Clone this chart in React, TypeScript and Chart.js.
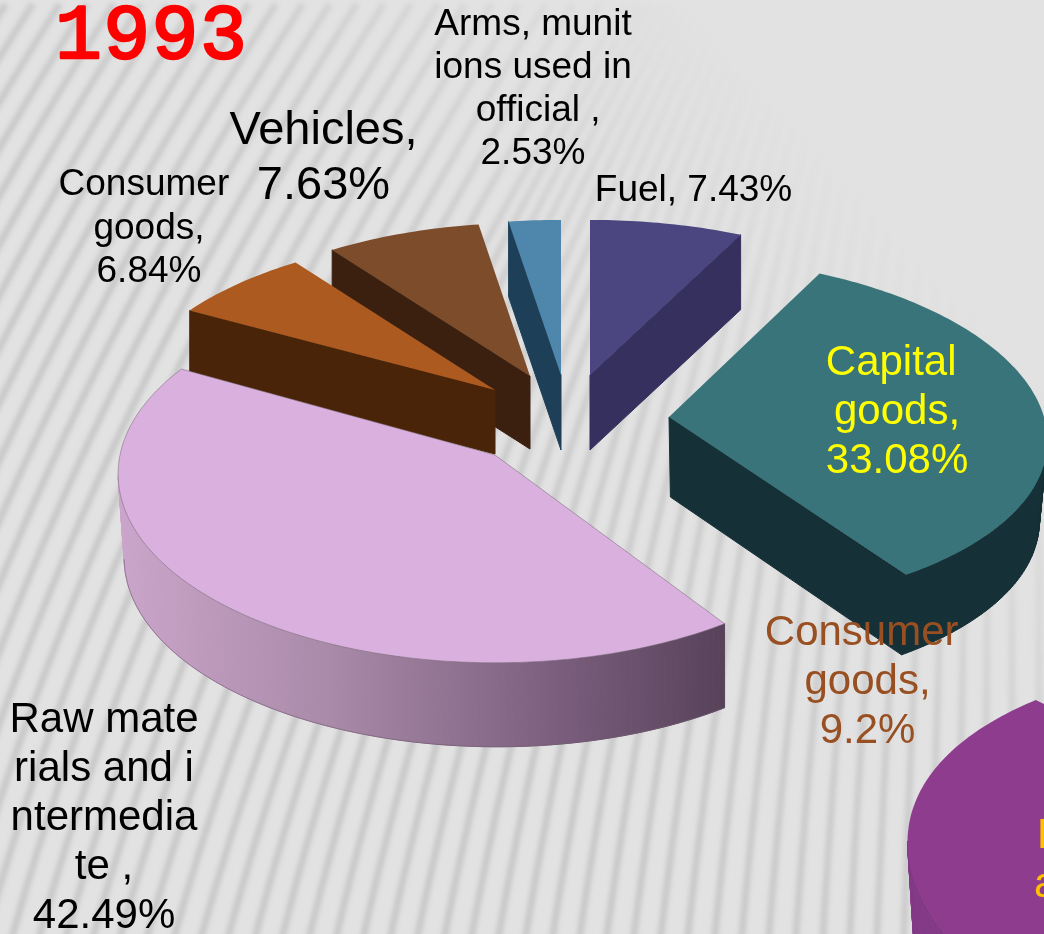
import React, { useEffect, useRef } from "react";
import { Chart, registerables, PieController, ArcElement } from "chart.js";

// ---- data ----
const mainCategories = ["Fuel", "Capital goods", "Raw materials and intermediate", "Consumer goods", "Vehicles", "Arms, munitions used in official"];
const mainValues = [7.43, 33.08, 42.49, 6.84, 7.63, 2.53];
const secondCategories = ["F", "Consumer goods", "Other"];
const secondValues = [32, 9.2, 58.8];

// ---- styles ----
const mainTopColors = ["#4b4580", "#38747a", "#dab1de", "#ad5a20", "#7d4c2a", "#4e86ac"];
const mainWallColors = ["#35305e", "#153037", "#a98aa8", "#4a2408", "#3b2010", "#1d3f58"];
const secondTopColors = ["#8e3d8e", "rgba(0,0,0,0)", "rgba(0,0,0,0)"];
const secondWallColors = ["#833a87", "rgba(0,0,0,0)", "rgba(0,0,0,0)"];

// per-slice projection settings: [apexX, apexY, radiusX, radiusY, depth, perspectiveX, perspectiveY, wallDrift]
const mainPlacement = [
  [590, 375, 375, 176, 75, 0.135, 0.135, 0],
  [669, 417, 375, 175, 80, 0.135, 0.1, 0.025],
  [495, 455, 375, 187, 84, 0.1, 0.1, 0.01],
  [495, 390, 371, 176, 64, 0.135, 0.135, 0],
  [530, 376, 368, 174, 73, 0.135, 0.135, 0],
  [561, 375, 375, 176, 75, 0.135, 0.135, 0],
];
const secondPlacement = [[1286, 815, 375, 194, 85, 0.135, 0.2275, -0.03]];
const placements = [secondPlacement, mainPlacement];
const wallColors = [secondWallColors, mainWallColors];
const mainDrawOrder = [5, 4, 3, 2, 0, 1];

class Arc3D extends ArcElement {
  static id = "arc3d";
  static defaults = ArcElement.defaults;
  draw(ctx: CanvasRenderingContext2D) {
    const el: any = this;
    const { datasetIndex, dataIndex } = el.$context;
    const p = placements[datasetIndex][dataIndex];
    if (!p) return;
    const [ax, ay, rx, ry, depth, kx, ky, drift] = p;
    const a0 = el.startAngle + Math.PI / 2;
    const a1 = el.endAngle + Math.PI / 2;
    const proj = (t: number) => {
      const u = Math.sin(t), v = Math.cos(t);
      return [ax + (rx * u) / (1 + kx * v), ay - (ry * v) / (1 + ky * v)];
    };
    const drop = (q: number[]) => [q[0] + (725 - q[0]) * drift, q[1] + depth];
    const rim: number[][] = [];
    const steps = Math.max(2, Math.ceil(((a1 - a0) * 180) / Math.PI));
    for (let i = 0; i <= steps; i++) rim.push(proj(a0 + ((a1 - a0) * i) / steps));
    const apex = [ax, ay];
    const mid = proj((a0 + a1) / 2);
    const wall = wallColors[datasetIndex][dataIndex];
    const isRaw = datasetIndex === 1 && dataIndex === 2;
    const poly = (pts: number[][], fill: any, stroke?: any) => {
      ctx.beginPath();
      pts.forEach((q, i) => (i ? ctx.lineTo(q[0], q[1]) : ctx.moveTo(q[0], q[1])));
      ctx.closePath();
      ctx.fillStyle = fill;
      ctx.fill();
      if (stroke) { ctx.strokeStyle = stroke; ctx.lineWidth = 1; ctx.stroke(); }
    };
    let wallFill: any = wall;
    if (isRaw) {
      wallFill = ctx.createLinearGradient(117, 0, 725, 0);
      wallFill.addColorStop(0, "#cba5cb");
      wallFill.addColorStop(0.35, "#a98aa8");
      wallFill.addColorStop(0.7, "#7e6080");
      wallFill.addColorStop(1, "#57425a");
    }
    const radial = (edge: number[]) => {
      const dx = edge[0] - ax, dy = edge[1] - ay;
      let nx = -dy, ny = dx;
      if (nx * (mid[0] - ax) + ny * (mid[1] - ay) > 0) { nx = -nx; ny = -ny; }
      if (ny > 0) poly([apex, edge, drop(edge), drop(apex)], wallFill, wallFill);
    };
    radial(rim[0]);
    radial(rim[rim.length - 1]);
    const front: number[][][] = [];
    for (let i = 0; i < rim.length - 1; i++) {
      if (rim[i + 1][0] < rim[i][0]) {
        front.push([rim[i], rim[i + 1]]);
        poly([rim[i], rim[i + 1], drop(rim[i + 1]), drop(rim[i])], wallFill, wallFill);
      }
    }
    if (isRaw) {
      ctx.strokeStyle = "rgba(110,90,110,0.6)";
      ctx.lineWidth = 1;
      ctx.beginPath();
      front.forEach(([a, b], i) => {
        const q = drop(a), r = drop(b);
        if (!i) ctx.moveTo(q[0], q[1]);
        ctx.lineTo(r[0], r[1]);
      });
      ctx.stroke();
    }
    poly([apex, ...rim], el.options.backgroundColor, isRaw ? "rgba(120,105,120,0.55)" : undefined);
  }
}

class Pie3D extends PieController {
  static id = "pie3d";
  static defaults = { ...PieController.defaults, dataElementType: "arc3d" };
  draw() {
    const self: any = this;
    const ctx = self.chart.ctx;
    const els = self._cachedMeta.data;
    const order = self.index === 1 ? mainDrawOrder : els.map((_: any, i: number) => i);
    order.forEach((i: number) => els[i].draw(ctx, self.chart.chartArea));
  }
}

Chart.register(...registerables, Arc3D, Pie3D);

// ---- text ----
const FONT = '"Liberation Sans", Arial, sans-serif';
const labelLines = [
  ["Arms, munit", "ions used in", " official ,", "2.53%"],
  ["Vehicles,", "7.63%"],
  ["Consumer ", "goods,", "6.84%"],
  ["Fuel, 7.43%"],
  ["Capital ", "goods,", "33.08%"],
  ["Consumer ", "goods,", "9.2%"],
  ["Raw mate", "rials and i", "ntermedia", "te ,", "42.49%"],
];
// centre x, first baseline, font size, line height, colour
const labelStyle: [number, number, number, number, string][] = [
  [533, 35, 37, 43, "#000000"],
  [323.5, 144, 47, 55, "#000000"],
  [149, 195, 37, 43.5, "#000000"],
  [693.5, 201, 37, 43, "#000000"],
  [897, 375, 42, 49, "#ffff00"],
  [867.5, 645, 42, 49, "#984f22"],
  [104, 732, 42, 49, "#000000"],
];

const backgroundPlugin = {
  id: "stripes",
  beforeDraw(chart: any) {
    const ctx = chart.ctx;
    const W = chart.width, H = chart.height;
    ctx.save();
    ctx.fillStyle = "#e2e2e2";
    ctx.fillRect(0, 0, W, H);
    const fade = ctx.createLinearGradient(1044, 0, 400, 600);
    fade.addColorStop(0.3, "rgba(198,198,198,0)");
    fade.addColorStop(0.68, "rgba(198,198,198,0.7)");
    fade.addColorStop(1, "rgba(198,198,198,0.9)");
    ctx.strokeStyle = fade;
    ctx.lineWidth = 7;
    ctx.filter = "blur(2px)";
    for (let X = -500; X < 1100; X += 27) {
      const k = Math.min(1, Math.max(0, 1000 - X) / 800);
      ctx.beginPath();
      for (let y = H + 10; y >= -10; y -= 20) {
        const d = H - y;
        const x = X + k * (0.28 * d + 0.00019 * d * d);
        if (y === H + 10) ctx.moveTo(x, y);
        else ctx.lineTo(x, y);
      }
      ctx.stroke();
    }
    ctx.restore();
  },
};

const labelPlugin = {
  id: "sliceLabels",
  afterDraw(chart: any) {
    const ctx = chart.ctx;
    ctx.save();
    ctx.textBaseline = "alphabetic";
    ctx.textAlign = "left";
    ctx.fillStyle = "#ffc000";
    ctx.font = `42px ${FONT}`;
    ctx.fillText("F", 1037, 848);
    ctx.fillText("a", 1034, 897);
    ctx.textAlign = "center";
    labelLines.forEach((lines, i) => {
      const [cx, y0, size, lh, color] = labelStyle[i];
      ctx.font = `${size}px ${FONT}`;
      ctx.fillStyle = color;
      lines.forEach((t, j) => ctx.fillText(t, cx, y0 + j * lh));
    });
    ctx.fillStyle = "#ff0000";
    ctx.strokeStyle = "#ff0000";
    ctx.lineWidth = 2.5;
    ctx.lineJoin = "round";
    ctx.font = '78px "Liberation Mono", monospace';
    (ctx as any).letterSpacing = "1.5px";
    ctx.textAlign = "left";
    ctx.fillText("1993", 55, 58);
    ctx.strokeText("1993", 55, 58);
    ctx.restore();
  },
};

export default function App() {
  const ref = useRef<HTMLCanvasElement>(null);
  useEffect(() => {
    document.body.style.margin = "0";
    const chart = new Chart(ref.current as HTMLCanvasElement, {
      type: "pie3d" as any,
      data: {
        labels: mainCategories,
        datasets: [
          { label: secondCategories.join(","), data: secondValues, backgroundColor: secondTopColors, rotation: 198, clip: false } as any,
          { label: "1993", data: mainValues, backgroundColor: mainTopColors, clip: false } as any,
        ],
      },
      options: {
        animation: false,
        responsive: false,
        layout: { padding: 0 },
        plugins: { legend: { display: false }, tooltip: { enabled: false }, title: { display: false } },
      },
      plugins: [backgroundPlugin, labelPlugin],
    });
    return () => chart.destroy();
  }, []);
  return <canvas ref={ref} width={1044} height={934} style={{ display: "block", width: 1044, height: 934 }} />;
}
